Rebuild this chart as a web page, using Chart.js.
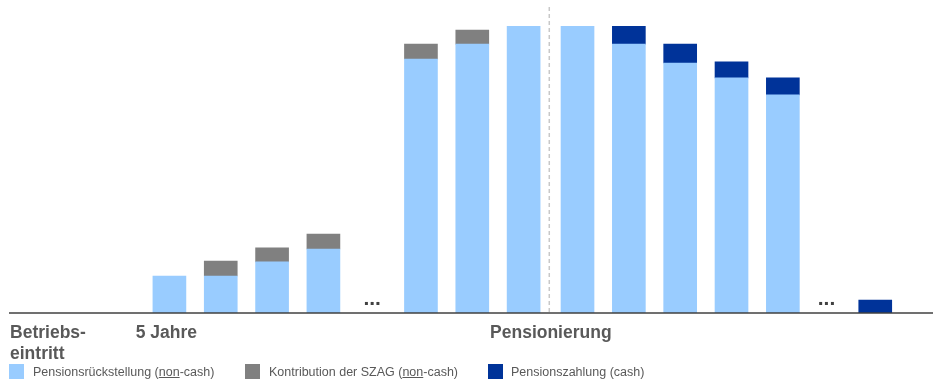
<!DOCTYPE html>
<html>
<head>
<meta charset="utf-8">
<script src="https://cdn.jsdelivr.net/npm/chart.js@4"></script>
<style>
  body { margin: 0; background: #fff; font-family: "Liberation Sans", Arial, sans-serif; }
  #wrap { position: relative; width: 933px; height: 379px; overflow: hidden; }
  .sq { position: absolute; top: 364px; width: 15px; height: 15px; }
  .lg { position: absolute; top: 365px; font-size: 12.5px; line-height: 15px; color: #595959; white-space: nowrap; }
</style>
</head>
<body>
<div id="wrap">
  <canvas id="myChart"></canvas>
  <div class="sq" style="left:9px;background:#99ccff"></div>
  <div class="lg" style="left:33px">Pensionsrückstellung (<u>non</u>-cash)</div>
  <div class="sq" style="left:245px;background:#808080"></div>
  <div class="lg" style="left:269px">Kontribution der SZAG (<u>non</u>-cash)</div>
  <div class="sq" style="left:488px;background:#003399"></div>
  <div class="lg" style="left:511px">Pensionszahlung (cash)</div>
</div>
<script>
// bar positions along the time axis (years, roughly; gaps where "..." stands)
const positions = [3, 4, 5, 6, 7.9, 8.9, 9.9, 10.95, 11.95, 12.95, 13.95, 14.95, 16.75];
const rueckstellung = [12.9, 12.9, 17.8, 22.3, 88.5, 93.7, 100, 100, 93.7, 87.1, 81.9, 76.0, null];
const kontribution = [null, 5.2, 4.9, 5.2, 5.2, 4.9, null, null, null, null, null, null, null];
const zahlung = [null, null, null, null, null, null, null, null, 6.3, 6.6, 5.6, 5.9, 4.5];

const ellipsisAt = [6.95, 15.8];
const retirementAt = 10.4;
const axisLabels = [
    { x: -0.105, lines: ['Betriebs-', 'eintritt'], align: 'left' },
    { x: 2.94, lines: ['5 Jahre'], align: 'center' },
    { x: 10.43, lines: ['Pensionierung'], align: 'center' }
];

function points(values) {
    return values.map((v, i) => ({ x: positions[i], y: v }));
}

const extras = {
    id: 'extras',
    beforeDatasetsDraw(chart) {
        const { ctx, scales: { x, y } } = chart;
        const px = x.getPixelForValue(retirementAt);
        ctx.save();
        ctx.strokeStyle = '#c8c8c8';
        ctx.lineWidth = 1.5;
        ctx.setLineDash([4, 3]);
        ctx.beginPath();
        ctx.moveTo(px, y.getPixelForValue(106.6));
        ctx.lineTo(px, y.getPixelForValue(0));
        ctx.stroke();
        ctx.restore();
    },
    afterDraw(chart) {
        const { ctx, chartArea, scales: { x, y } } = chart;
        const base = y.getPixelForValue(0);
        ctx.save();
        ctx.strokeStyle = '#404040';
        ctx.lineWidth = 1.5;
        ctx.beginPath();
        ctx.moveTo(chartArea.left, base);
        ctx.lineTo(chartArea.right, base);
        ctx.stroke();

        ctx.fillStyle = '#404040';
        ctx.font = 'bold 21px "Liberation Sans", Arial';
        ctx.textAlign = 'center';
        ctx.textBaseline = 'alphabetic';
        ellipsisAt.forEach(v => ctx.fillText('...', x.getPixelForValue(v), base - 8));

        ctx.fillStyle = '#595959';
        ctx.font = 'bold 17.5px "Liberation Sans", Arial';
        axisLabels.forEach(l => {
            ctx.textAlign = l.align;
            l.lines.forEach((t, i) => ctx.fillText(t, x.getPixelForValue(l.x), base + 25 + i * 21));
        });
        ctx.restore();
    }
};

const config = {
    type: 'bar',
    data: {
        datasets: [
            { label: 'Pensionsrückstellung (non-cash)', data: points(rueckstellung), backgroundColor: '#99ccff', barThickness: 33 },
            { label: 'Kontribution der SZAG (non-cash)', data: points(kontribution), backgroundColor: '#808080', barThickness: 33 },
            { label: 'Pensionszahlung (cash)', data: points(zahlung), backgroundColor: '#003399', barThickness: 33 }
        ]
    },
    plugins: [extras],
    options: {
        animation: false,
        responsive: true,
        maintainAspectRatio: false,
        layout: { padding: { top: 26, bottom: 66, left: 9, right: 0 } },
        scales: {
            x: { type: 'linear', stacked: true, offset: false, min: -0.125, max: 17.875, display: false },
            y: { stacked: true, min: 0, max: 100, display: false }
        },
        plugins: {
            legend: { display: false },
            tooltip: { enabled: false }
        }
    }
};

new Chart(document.getElementById('myChart'), config);
</script>
</body>
</html>
